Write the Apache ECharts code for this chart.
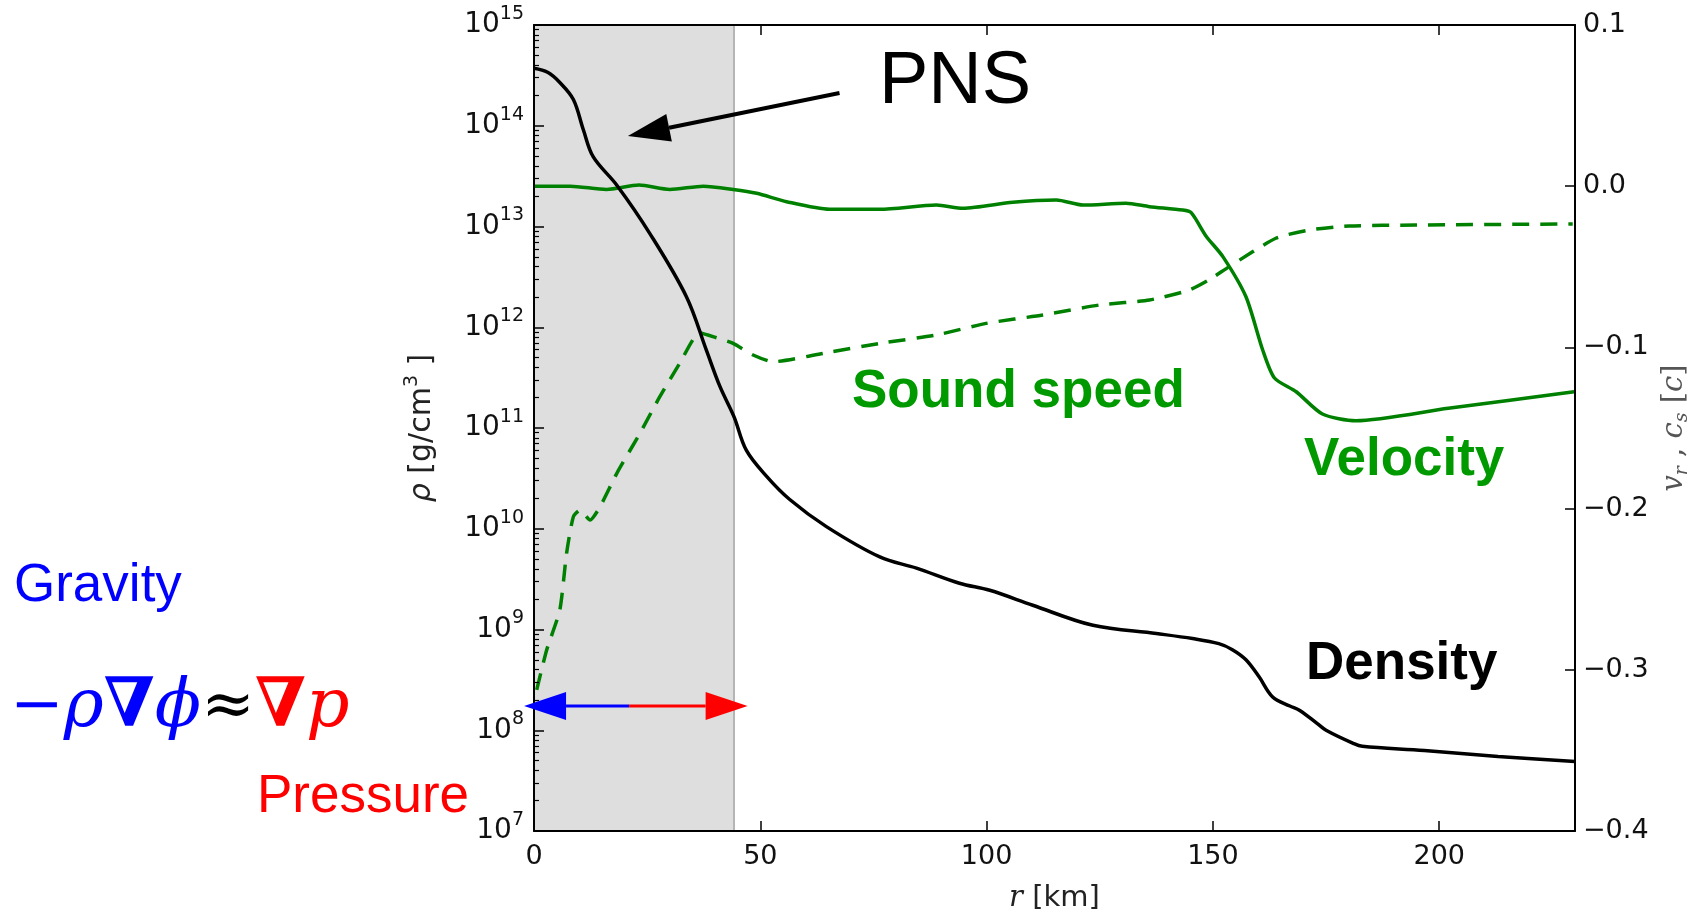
<!DOCTYPE html>
<html>
<head>
<meta charset="utf-8">
<script src="https://cdn.jsdelivr.net/npm/echarts@6/dist/echarts.min.js"></script>
<style>
	html, body { margin: 0; padding: 0; background: #fff; }
	#chart { width: 1693px; height: 919px; }
</style>
</head>
<body>
<div id="chart"></div>
<script>

// density profile, r [km] -> rho [g/cm^3]
const densityR = [0, 3, 5.7, 8.7, 10.9, 13.1, 18.3, 25.6, 33.7, 38.1, 41.1, 44.2, 46.9, 51.4, 56.5, 64.6, 76.4, 84.5, 94, 100.7,
	110.2, 123.5, 137.5, 145.5, 151.3, 154.3, 157.3, 160.2, 163.2, 167, 169.1, 173, 175, 181, 183, 196.7, 213, 230];
const densityVal = [3.72e14, 3.39e14, 2.69e14, 1.82e14, 9.12e13, 4.90e13, 2.57e13, 8.51e12, 2.00e12, 5.89e11, 2.57e11, 1.29e11,
	6.03e10, 3.31e10, 1.95e10, 1.05e10, 5.25e9, 4.07e9, 2.88e9, 2.45e9, 1.74e9, 1.10e9, 9.12e8, 8.13e8, 7.24e8, 6.31e8, 5.01e8,
	3.39e8, 2.14e8, 1.74e8, 1.58e8, 1.17e8, 1.00e8, 7.41e7, 6.92e7, 6.31e7, 5.50e7, 4.90e7];

// radial velocity, r [km] -> v_r [c]
const velocityR = [0, 8, 16, 23.2, 30, 37.4, 44, 49.2, 55.8, 65.3, 76.4, 88.9, 94.8, 105.8, 115.4, 121.3, 130.8, 136, 143.3,
	145.2, 148.5, 152.2, 157.3, 161, 163.6, 168.4, 174.2, 181.6, 202, 229.8];
const velocityVal = [0.0, 0.0, -0.002, 0.0007, -0.002, 0.0, -0.002, -0.0044, -0.0096, -0.0143, -0.0143, -0.0117, -0.0137, -0.01,
	-0.0086, -0.0117, -0.0106, -0.0127, -0.0148, -0.0164, -0.031, -0.0437, -0.0686, -0.1016, -0.119, -0.1275, -0.1413, -0.1455,
	-0.1378, -0.1275];

// sound speed (dashed), r [km] -> c_s [c]
const soundR = [0.6, 2.8, 5.7, 7.2, 8.7, 10.2, 12.4, 14.6, 18.3, 23.4, 27.8, 32.2, 36.6, 40.3, 44, 48.4, 52.8, 63.9, 76.4, 88.9,
	99.9, 112.4, 124.9, 136, 144.8, 149.2, 153.6, 163.9, 171.3, 180.1, 194.8, 229.5];
const soundVal = [-0.3125, -0.2877, -0.263, -0.2277, -0.205, -0.2009, -0.2071, -0.1988, -0.1781, -0.1533, -0.1306, -0.1099, -0.091,
	-0.094, -0.0975, -0.1047, -0.1089, -0.1037, -0.0975, -0.0923, -0.0851, -0.0799, -0.0737, -0.0706, -0.0644, -0.058, -0.0499,
	-0.0323, -0.0272, -0.0247, -0.0241, -0.0234];

const xTicks = [0, 50, 100, 150, 200];
const rhoTicks = [1e7, 1e8, 1e9, 1e10, 1e11, 1e12, 1e13, 1e14, 1e15];
const pnsRadius = 44.2;

// 2..9 x 10^n, like matplotlib's log minor ticks
const rhoMinorTicks = [];
for(let e = 7; e < 15; e++){
	for(let m = 2; m <= 9; m++) rhoMinorTicks.push(m * Math.pow(10, e));
}

// the log extent comes back a hair under 1e15, so nudge the top tick inside it
const rhoTickPos = rhoTicks.map((v, i) => i === rhoTicks.length - 1 ? v * 0.99999 : v);

const toPairs = (xs, ys) => xs.map((x, i) => [x, ys[i]]);

const GREEN = '#008000';
const tickFont = { fontFamily: 'DejaVu Sans', fontSize: 27, color: '#111' };
const spine = { show: true, onZero: false, lineStyle: { color: '#000', width: 2 } };

const chart = echarts.init(document.getElementById('chart'));

chart.setOption({
	animation: false,
	backgroundColor: '#fff',
	grid: {
		left: 534,
		right: 118,
		top: 25,
		bottom: 88,
		containLabel: false,
		outerBoundsMode: 'none',
	},
	xAxis: [
		{
			type: 'value',
			min: 0,
			max: 230,
			position: 'bottom',
			z: 10,
			axisLine: spine,
			axisTick: { inside: true, length: 10, customValues: xTicks, lineStyle: { color: '#000', width: 1.5 } },
			axisLabel: Object.assign({ customValues: xTicks, margin: 12 }, tickFont),
			splitLine: { show: false },
			name: '{i|r}{t| [km]}',
			nameLocation: 'middle',
			nameGap: 53,
			nameTextStyle: {
				rich: {
					i: { fontFamily: 'DejaVu Serif', fontStyle: 'italic', fontSize: 29, color: '#222' },
					t: { fontFamily: 'DejaVu Sans', fontSize: 29, color: '#222' },
				},
			},
		},
		{
			type: 'value',
			min: 0,
			max: 230,
			position: 'top',
			z: 10,
			axisLine: spine,
			axisTick: { inside: true, length: 10, customValues: xTicks, lineStyle: { color: '#000', width: 1.5 } },
			axisLabel: { show: false },
			splitLine: { show: false },
		},
	],
	yAxis: [
		{
			type: 'log',
			logBase: 10,
			min: 1e7,
			max: 1e15,
			position: 'left',
			z: 10,
			axisLine: spine,
			axisTick: { inside: true, length: 10, customValues: rhoTickPos, lineStyle: { color: '#000', width: 1.5 } },
			axisLabel: {
				customValues: rhoTickPos,
				showMinLabel: true,
				showMaxLabel: true,
				hideOverlap: false,
				margin: 10,
				formatter: (value) => `{b|10}{s|${Math.round(Math.log10(value))}}`,
				rich: {
					b: { fontFamily: 'DejaVu Sans', fontSize: 28, color: '#111' },
					s: { fontFamily: 'DejaVu Sans', fontSize: 19, color: '#111', padding: [0, 0, 22, 0] },
				},
			},
			splitLine: { show: false },
			name: '{i|ρ}{t| [g/cm}{s|3}{t| ]}',
			nameLocation: 'middle',
			nameRotate: 90,
			nameGap: 92,
			nameTextStyle: {
				rich: {
					i: { fontFamily: 'DejaVu Sans', fontStyle: 'italic', fontSize: 30, color: '#222' },
					t: { fontFamily: 'DejaVu Sans', fontSize: 30, color: '#222' },
					s: { fontFamily: 'DejaVu Sans', fontSize: 19, color: '#222', padding: [0, 0, 20, 0] },
				},
			},
		},
		{
			// minor ticks only
			type: 'log',
			logBase: 10,
			min: 1e7,
			max: 1e15,
			position: 'left',
			z: 10,
			axisLine: { show: false },
			axisTick: { inside: true, length: 5, customValues: rhoMinorTicks, lineStyle: { color: '#000', width: 1.2 } },
			axisLabel: { show: false },
			splitLine: { show: false },
		},
		{
			type: 'value',
			min: -0.4,
			max: 0.1,
			interval: 0.1,
			position: 'right',
			z: 10,
			axisLine: spine,
			axisTick: { inside: true, length: 10, lineStyle: { color: '#000', width: 1.5 } },
			axisLabel: Object.assign({
				margin: 8,
				formatter: (v) => (v < -1e-9 ? '−' : '') + Math.abs(v).toFixed(1),
			}, tickFont),
			splitLine: { show: false },
			name: '{i|v}{sub|r}{t| , }{i|c}{sub|s}{t| [}{i|c}{t|]}',
			nameLocation: 'middle',
			nameRotate: 90,
			nameGap: 82,
			nameTextStyle: {
				rich: {
					i: { fontFamily: 'DejaVu Serif', fontStyle: 'italic', fontSize: 29, color: '#555' },
					t: { fontFamily: 'DejaVu Serif', fontSize: 29, color: '#555' },
					sub: { fontFamily: 'DejaVu Serif', fontStyle: 'italic', fontSize: 19, color: '#555', padding: [16, 0, 0, 0] },
				},
			},
		},
	],
	series: [
		{
			name: 'Density',
			type: 'line',
			xAxisIndex: 0,
			yAxisIndex: 0,
			data: toPairs(densityR, densityVal),
			showSymbol: false,
			smooth: 0.35,
			lineStyle: { color: '#000', width: 3.5 },
			z: 4,
			markArea: {
				silent: true,
				z: 1,
				itemStyle: { color: '#dedede' },
				data: [[{ xAxis: 0 }, { xAxis: pnsRadius }]],
			},
			markLine: {
				silent: true,
				z: 1,
				symbol: 'none',
				label: { show: false },
				lineStyle: { color: '#b5b5b5', width: 2, type: 'solid' },
				data: [{ xAxis: pnsRadius }],
			},
		},
		{
			name: 'Velocity',
			type: 'line',
			xAxisIndex: 0,
			yAxisIndex: 2,
			data: toPairs(velocityR, velocityVal),
			showSymbol: false,
			smooth: 0.25,
			lineStyle: { color: GREEN, width: 3.5 },
			z: 3,
		},
		{
			name: 'Sound speed',
			type: 'line',
			xAxisIndex: 0,
			yAxisIndex: 2,
			data: toPairs(soundR, soundVal),
			showSymbol: false,
			smooth: 0.2,
			lineStyle: { color: GREEN, width: 3.5, type: [17, 11] },
			z: 3,
		},
	],
});

// annotations, placed in data coordinates through the chart's own scales
const px = (r, rho) => chart.convertToPixel({ xAxisIndex: 0, yAxisIndex: 0 }, [r, rho]);

const arrow = (from, to, color, lineWidth, headLen, headHalf) => {
	const dx = to[0] - from[0];
	const dy = to[1] - from[1];
	const len = Math.hypot(dx, dy);
	const ux = dx / len;
	const uy = dy / len;
	const bx = to[0] - ux * headLen;
	const by = to[1] - uy * headLen;
	return [
		{ type: 'line', z: 20, shape: { x1: from[0], y1: from[1], x2: bx, y2: by }, style: { stroke: color, lineWidth } },
		{
			type: 'polygon', z: 20,
			shape: { points: [to, [bx - uy * headHalf, by + ux * headHalf], [bx + uy * headHalf, by - ux * headHalf]] },
			style: { fill: color },
		},
	];
};

const label = (text, x, y, fontSize, color, fontWeight = 'normal') => ({
	type: 'text', z: 20, x, y,
	style: { text, fontFamily: 'Liberation Sans', fontSize, fontWeight, fill: color, align: 'left', verticalAlign: 'middle' },
});

const forceY = 1.74e8;
const forceMid = px(21.0, forceY);

chart.setOption({
	graphic: [
		...arrow(px(67.5, 2.11e14), px(20.75, 7.9e13), '#000', 4, 42, 14),
		...arrow(forceMid, px(-2.2, forceY), '#0000ff', 3, 42, 14),
		...arrow(forceMid, px(47.2, forceY), '#ff0000', 3, 42, 14),
		label('PNS', 879, 83, 74, '#000'),
		label('Sound speed', 852, 392, 53, '#009900', 'bold'),
		label('Velocity', 1304, 460, 53, '#009900', 'bold'),
		label('Density', 1306, 664, 53, '#000', 'bold'),
		label('Gravity', 14, 586, 53, '#0000ff'),
		label('Pressure', 257, 797, 53, '#ff0000'),
		{
			type: 'text', z: 20, x: 10, y: 708,
			style: {
				text: '{m|−}{r|ρ}{n|∇}{f|ϕ}{a|≈}{n2|∇}{p|p}',
				verticalAlign: 'middle',
				rich: {
					m: { fontFamily: 'DejaVu Serif', fontSize: 64, fill: '#0000ff' },
					r: { fontFamily: 'DejaVu Serif', fontStyle: 'italic', fontSize: 68, fill: '#0000ff' },
					n: { fontFamily: 'DejaVu Serif', fontWeight: 'bold', fontSize: 68, fill: '#0000ff' },
					f: { fontFamily: 'DejaVu Serif', fontStyle: 'italic', fontSize: 68, fill: '#0000ff' },
					a: { fontFamily: 'DejaVu Serif', fontSize: 64, fill: '#000' },
					n2: { fontFamily: 'DejaVu Serif', fontWeight: 'bold', fontSize: 68, fill: '#ff0000' },
					p: { fontFamily: 'DejaVu Serif', fontStyle: 'italic', fontSize: 68, fill: '#ff0000' },
				},
			},
		},
	],
});

</script>
</body>
</html>
